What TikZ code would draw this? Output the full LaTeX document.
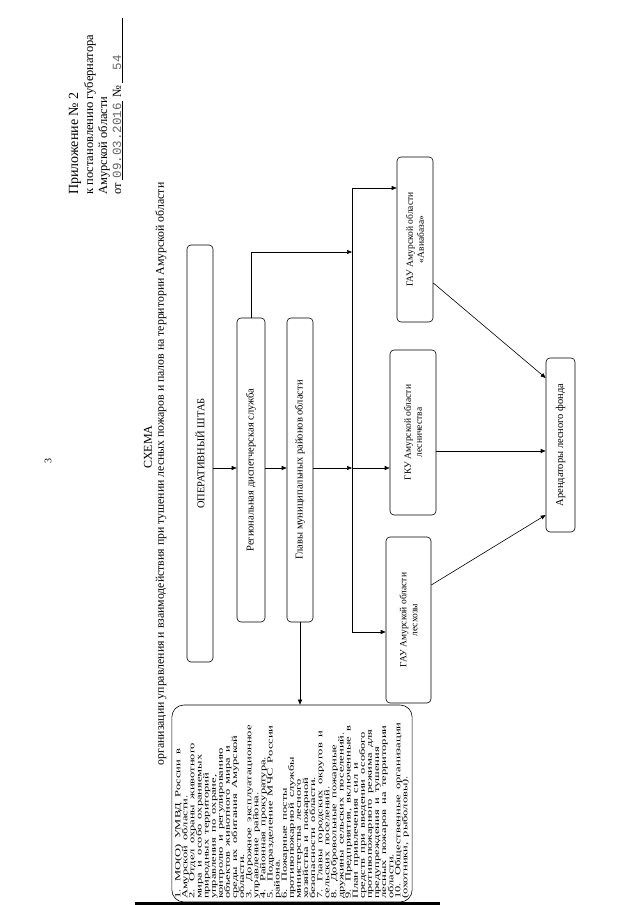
\documentclass[tikz,border=0pt]{standalone}
\usepackage{fontspec}
\setmainfont{Liberation Serif}
\newfontfamily\fillfont{Liberation Mono}
\usetikzlibrary{arrows.meta}
\tikzset{
  box/.style={draw, rounded corners=4pt, line width=0.6pt, align=center, inner sep=1pt},
  arr/.style={line width=0.6pt, -{Triangle[length=5pt,width=4pt]}},
  ln/.style={line width=0.6pt},
  hdr/.style={anchor=west, inner sep=0pt},
}
\begin{document}
\begin{tikzpicture}
\begin{scope}[rotate=90, transform shape, x=1pt, y=-1pt]
\useasboundingbox (0,0) rectangle (905,640);
% header
\node[hdr, font=\fontsize{14}{16}\selectfont] (h1) at (710,75) {Приложение № 2};
\node[hdr, font=\fontsize{12.5}{14}\selectfont] (h2) at (710,90) {к постановлению губернатора};
\node[hdr, font=\fontsize{12.5}{14}\selectfont] (h3) at (710,104) {Амурской области};
\node[hdr, font=\fontsize{12.5}{14}\selectfont] (h4) at (710,118) {от \underline{\color{black!60}\fillfont\,09.03.2016\,} № \underline{\color{black!60}\fillfont\quad 54\qquad\quad}};
\node[font=\fontsize{10}{12}\selectfont] (pg) at (444,48) {3};
\node[font=\fontsize{12}{14}\selectfont] (title) at (458,148) {СХЕМА};
\node[font=\fontsize{11.8}{14}\selectfont] (sub) at (431,161) {организации управления и взаимодействия при тушении лесных пожаров и палов на территории Амурской области};
% boxes
\node[box, minimum width=417pt, minimum height=26pt, font=\fontsize{10.5}{12}\selectfont] (osh) at (451.5,200) {ОПЕРАТИВНЫЙ ШТАБ};
\node[box, minimum width=304pt, minimum height=28pt, font=\fontsize{10.5}{12}\selectfont] (rds) at (435,251) {Региональная диспетчерская служба};
\node[box, minimum width=304pt, minimum height=26pt, font=\fontsize{10.5}{12}\selectfont] (glavy) at (435,300) {Главы муниципальных районов области};
\node[box, minimum width=165pt, minimum height=36pt, font=\fontsize{9.5}{11}\selectfont] (avia) at (665.5,415) {ГАУ Амурской области\\«Авиабаза»};
\node[box, minimum width=165pt, minimum height=46pt, font=\fontsize{9.5}{11}\selectfont] (gku) at (472.5,413) {ГКУ Амурской области\\лесничества};
\node[box, minimum width=166pt, minimum height=45pt, font=\fontsize{9.5}{11}\selectfont] (gau) at (285,408.5) {ГАУ Амурской области\\лесхозы};
\node[box, minimum width=174pt, minimum height=29pt, font=\fontsize{10.5}{12}\selectfont] (arend) at (460,560.5) {Арендаторы лесного фонда};
\node[draw, rounded corners=12pt, line width=0.6pt, minimum width=197pt, minimum height=240pt, text width=191pt, align=left, inner sep=3pt] (list) at (101.5,292) {\scalebox{1.6}[1]{\parbox{125pt}{\fontsize{7.8}{7.1}\selectfont\lineskiplimit=-20pt\raggedright 1. МО(О) УМВД России в\\
Амурской области.\\
2. Отдел охраны животного\\
мира и особо охраняемых\\
природных территорий\\
управления по охране,\\
контролю и регулированию\\
объектов животного мира и\\
среды их обитания Амурской\\
области.\\
3. Дорожное эксплуатационное\\
управление района.\\
4. Районная прокуратура.\\
5. Подразделение МЧС России\\
района.\\
6. Пожарные посты\\
противопожарной службы\\
министерства лесного\\
хозяйства и пожарной\\
безопасности области.\\
7. Главы городских округов и\\
сельских поселений.\\
8. Добровольные пожарные\\
дружины сельских поселений.\\
9. Предприятия, включенные в\\
План привлечения сил и\\
средств при введении особого\\
противопожарного режима для\\
предупреждения и тушения\\
лесных пожаров на территории\\
области.\\
10. Общественные организации\\
(охотники, рыболовы).}}};
\fill (0,135) rectangle (3,440);
% helper coordinates
\coordinate (c437) at (437,0);
\coordinate (busY) at (0,352);
\coordinate (busL) at (273,352);
\coordinate (busR) at (717,352);
\coordinate (turn) at (653,0);
\coordinate (c454) at (454,0);
\coordinate (c320) at (320,0);
\coordinate (c390) at (390,0);
\coordinate (c622) at (622,0);
\coordinate (c527) at (527,0);
% connectors
\draw[arr] (c437 |- osh.south) -- (c437 |- rds.north);
\draw[arr] (c437 |- rds.south) -- (c437 |- glavy.north);
\draw[arr] (c437 |- glavy.south) -- (c437 |- busY);
\draw[ln] (busL) -- (busR);
\draw[arr] (busL) -- (busL |- gau.north);
\draw[arr] (c437 |- busY) -- (c437 |- gku.north);
\draw[arr] (busR) -- (busR |- avia.north);
\draw[arr] (rds.east) -| (turn |- busY);
\draw[arr] (glavy.west) -- (glavy.west -| list.east);
\draw[arr] (c454 |- gku.south) -- (c454 |- arend.north);
\draw[arr] (c320 |- gau.south) -- (c390 |- arend.north);
\draw[arr] (c622 |- avia.south) -- (c527 |- arend.north);
\end{scope}
\end{tikzpicture}
\end{document}
